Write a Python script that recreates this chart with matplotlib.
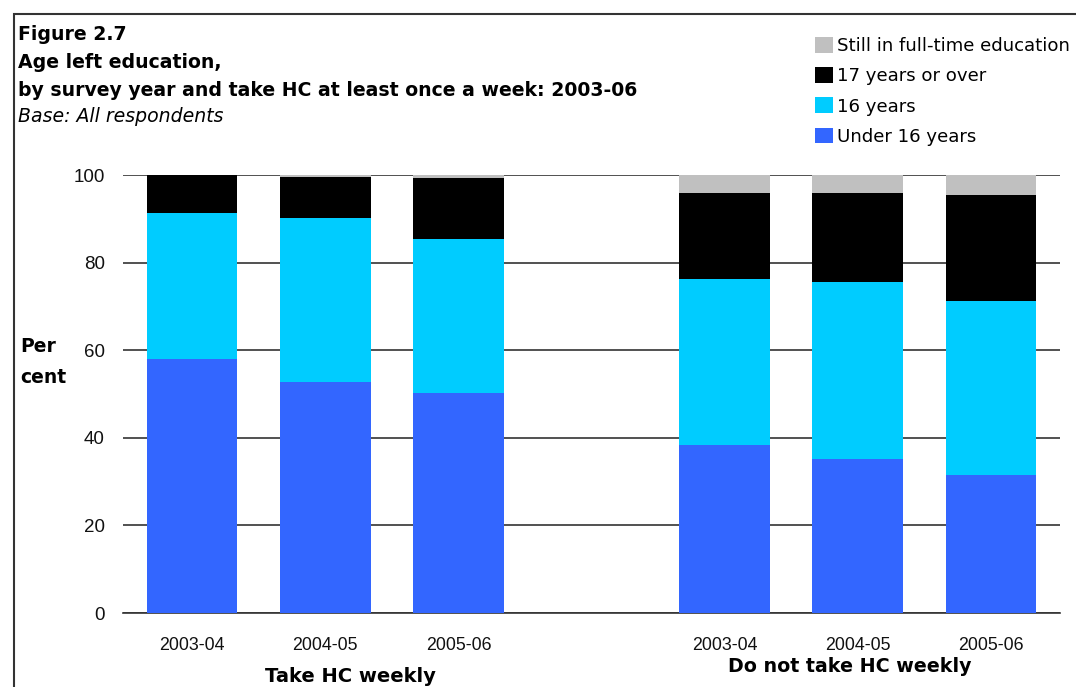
import matplotlib
matplotlib.use("Agg")
import matplotlib.pyplot as plt
from matplotlib.patches import Rectangle
import numpy as np

plt.rcParams['font.family'] = ['Liberation Sans', 'DejaVu Sans']

years = ["2003-04", "2004-05", "2005-06", "2003-04", "2004-05", "2005-06"]
groups = ["Take HC weekly", "Do not take HC weekly"]
series_names = ["Under 16 years", "16 years", "17 years or over", "Still in full-time education"]
under16 = [58.0, 52.7, 50.2, 38.4, 35.2, 31.5]
sixteen = [33.3, 37.5, 35.2, 37.9, 40.4, 39.7]
seventeen = [9.0, 9.3, 13.9, 19.6, 20.3, 24.2]
still_ft = [0.0, 0.5, 0.7, 4.1, 4.1, 4.6]
colors = ["#3366FF", "#00CCFF", "#000000", "#C0C0C0"]

W, H = 1076, 687
fig = plt.figure(figsize=(W / 100, H / 100), dpi=100)
ax = fig.add_axes([123 / W, 1 - 613 / H, (1060 - 123) / W, (613 - 175) / H])

x = np.array([0, 1, 2, 4, 5, 6], dtype=float)
bottom = np.zeros(len(x))
for vals, col, name in zip([under16, sixteen, seventeen, still_ft], colors, series_names):
    ax.bar(x, vals, width=0.68, bottom=bottom, color=col, label=name, zorder=3, linewidth=0)
    bottom += np.array(vals)

ax.set_xlim(-0.52, 6.52)
ax.set_ylim(0, 100)
ax.set_yticks([0, 20, 40, 60, 80, 100])
ax.yaxis.grid(True, color="#333333", linewidth=1.2, zorder=0)
ax.set_axisbelow(True)
for s in ["top", "right", "left"]:
    ax.spines[s].set_visible(False)
ax.spines["bottom"].set_color("#333333")
ax.spines["bottom"].set_linewidth(1.2)
ax.tick_params(axis="y", length=0, labelsize=13.5, labelcolor="#111111", pad=13)
ax.tick_params(axis="x", length=0, labelsize=12.8, labelcolor="#111111", pad=17)
ax.set_xticks(x)
ax.set_xticklabels(years)

dv = ['DejaVu Sans']
# group labels
fig.text(350 / W, 1 - 677 / H, groups[0], ha="center", va="center", fontsize=14, fontweight="bold", family=dv)
fig.text(850 / W, 1 - 667 / H, groups[1], ha="center", va="center", fontsize=13.7, fontweight="bold", family=dv)

# y label
fig.text(20 / W, 1 - 346 / H, "Per", ha="left", va="center", fontsize=13.5, fontweight="bold", family=dv)
fig.text(20 / W, 1 - 378 / H, "cent", ha="left", va="center", fontsize=13.5, fontweight="bold", family=dv)

# titles
tfs = 13.6
fig.text(18 / W, 1 - 35 / H, "Figure 2.7", ha="left", va="center", fontsize=tfs, fontweight="bold", family=dv)
fig.text(18 / W, 1 - 62 / H, "Age left education,", ha="left", va="center", fontsize=tfs, fontweight="bold", family=dv)
fig.text(18 / W, 1 - 90 / H, "by survey year and take HC at least once a week: 2003-06", ha="left", va="center", fontsize=tfs, fontweight="bold", family=dv)
fig.text(18 / W, 1 - 117 / H, "Base: All respondents", ha="left", va="center", fontsize=tfs, fontstyle="italic", family=dv)

# legend
handles, labels = ax.get_legend_handles_labels()
leg = fig.legend(handles[::-1], labels[::-1], loc="upper left", bbox_to_anchor=(808 / W, 1 - 30 / H),
                 frameon=False, prop={'family': 'DejaVu Sans', 'size': 13.1}, handlelength=0.95, handleheight=0.95,
                 handletextpad=0.25, labelspacing=0.66, borderaxespad=0)

# frame border
fig.patches.append(Rectangle((14 / W, -0.1), 1.2, 1 - 14 / H + 0.1, transform=fig.transFigure,
                             fill=False, edgecolor="#333333", linewidth=1.5))

fig.savefig("out.png", dpi=100)
